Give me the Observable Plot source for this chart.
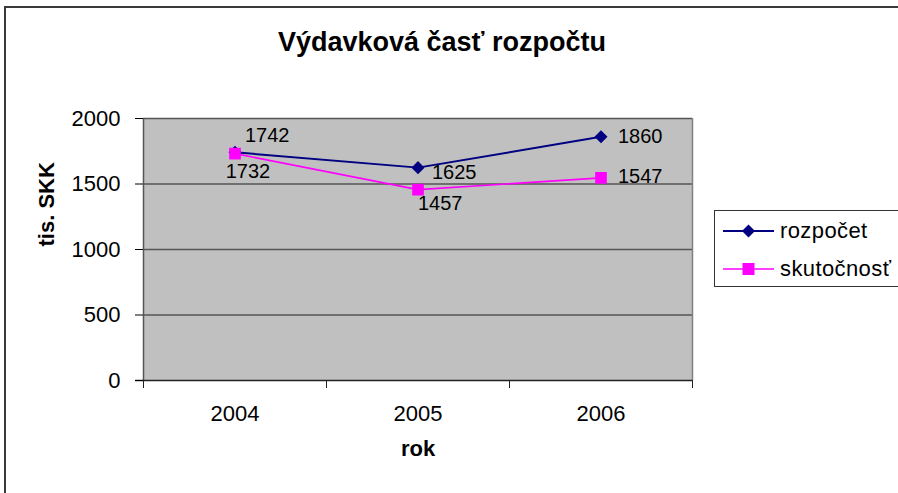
<!DOCTYPE html>
<html>
<head>
<meta charset="utf-8">
<script src="https://cdn.jsdelivr.net/npm/d3@7"></script>
<script src="https://cdn.jsdelivr.net/npm/@observablehq/plot@0.6"></script>
<style>
  html, body { margin: 0; padding: 0; background: #fff; overflow: hidden; }
  #wrap { position: relative; width: 898px; height: 493px; font-family: "Liberation Sans", Arial, sans-serif; }
  #border { position: absolute; left: 4px; top: 6px; width: 905px; height: 505px; border: 2px solid #3a3a3a; box-sizing: border-box; pointer-events: none; }
  #legend { position: absolute; left: 714px; top: 210px; width: 200px; height: 77px; border: 1px solid #333; background: #fff; box-sizing: border-box; }
  .lrow { position: absolute; left: 0; height: 30px; display: flex; align-items: center; font-size: 22px; color: #000; letter-spacing: 0.4px; }
  .lrow svg { margin-left: 8px; margin-right: 5px; }
</style>
</head>
<body>
<div id="wrap"><div id="border"></div></div>
<script>
const chartTitle = "Výdavková časť rozpočtu";
const xTitle = "rok";
const yTitle = "tis. SKK";
const years = ["2004", "2005", "2006"];
const seriesNames = ["rozpočet", "skutočnosť"];
const rozpocet = [1742, 1625, 1860];
const skutocnost = [1732, 1457, 1547];
const yTicks = [0, 500, 1000, 1500, 2000];

const colors = {"rozpočet": "#000080", "skutočnosť": "#FF00FF"};
const W = 898, H = 493, mL = 143, mR = 206, mT = 118, mB = 113;
const bw = (W - mL - mR) / years.length;
const plotH = H - mT - mB;

const rows = years.flatMap((yr, i) => [
  {year: yr, series: seriesNames[0], value: rozpocet[i]},
  {year: yr, series: seriesNames[1], value: skutocnost[i]}
]);
const rozRows = rows.filter(d => d.series === seriesNames[0]);
const skuRows = rows.filter(d => d.series === seriesNames[1]);

// label placement (style only): [series, year] -> offsets
const labelStyle = [
  {s: 0, y: "2004", dx: 10, dy: -17, anchor: "start"},
  {s: 1, y: "2004", dx: 13, dy: 18, anchor: "middle"},
  {s: 0, y: "2005", dx: 14, dy: 5, anchor: "start"},
  {s: 1, y: "2005", dx: 0, dy: 14, anchor: "start"},
  {s: 0, y: "2006", dx: 17, dy: 0, anchor: "start"},
  {s: 1, y: "2006", dx: 17, dy: -1, anchor: "start"}
];
const labelMarks = labelStyle.map(st => Plot.text(
  rows.filter(d => d.series === seriesNames[st.s] && d.year === st.y),
  {x: "year", y: "value", text: d => String(d.value), dx: st.dx, dy: st.dy,
   textAnchor: st.anchor, fontSize: 20, fill: "black"}
));

const chart = Plot.plot({
  width: W, height: H,
  marginLeft: mL, marginRight: mR, marginTop: mT, marginBottom: mB,
  style: {fontFamily: "'Liberation Sans', Arial, sans-serif", background: "transparent", overflow: "visible"},
  x: {type: "band", domain: years, padding: 0},
  y: {domain: [0, 2000]},
  marks: [
    Plot.frame({fill: "#C0C0C0"}),
    Plot.ruleY(yTicks.filter(d => d > 0), {stroke: "#555", strokeWidth: 1.5}),
    Plot.ruleX([years[years.length - 1]], {dx: bw / 2, stroke: "#808080", strokeWidth: 1.5}),
    Plot.ruleX([years[0]], {dx: -bw / 2, stroke: "#555", strokeWidth: 1.5}),
    Plot.ruleX(years, {dx: -bw / 2, insetTop: plotH, insetBottom: -8, stroke: "#222", strokeWidth: 1}),
    Plot.ruleX([years[years.length - 1]], {dx: bw / 2, insetTop: plotH, insetBottom: -8, stroke: "#222", strokeWidth: 1}),
    Plot.ruleY([0], {stroke: "#222", strokeWidth: 1.5, insetLeft: -8}),
    Plot.axisY({ticks: yTicks, tickSize: 8, tickPadding: 15, fontSize: 22, label: null, color: "#000", tickFormat: d => String(d)}),
    Plot.axisX({tickSize: 0, tickPadding: 25, fontSize: 22, label: null, color: "#000"}),
    Plot.line(rozRows, {x: "year", y: "value", stroke: colors[seriesNames[0]], strokeWidth: 2}),
    Plot.line(skuRows, {x: "year", y: "value", stroke: colors[seriesNames[1]], strokeWidth: 1.6}),
    Plot.dot(rozRows, {x: "year", y: "value", symbol: "square", rotate: 45, r: 5.2, fill: colors[seriesNames[0]], stroke: "none"}),
    Plot.dot(skuRows, {x: "year", y: "value", symbol: "square", r: 6.6, fill: colors[seriesNames[1]], stroke: "none"}),
    ...labelMarks,
    Plot.text([chartTitle], {frameAnchor: "top", lineAnchor: "bottom", dx: 24, dy: -68, fontSize: 27, fontWeight: "bold", fill: "black"}),
    Plot.text([xTitle], {frameAnchor: "bottom", dy: 75, fontSize: 22, fontWeight: "bold", fill: "black"}),
    Plot.text([yTitle], {frameAnchor: "left", rotate: -90, dx: -97, dy: -3, fontSize: 22, fontWeight: "bold", fill: "black"})
  ]
});
const wrap = document.getElementById("wrap");
chart.style.position = "absolute";
chart.style.left = "0px";
chart.style.top = "0px";
wrap.insertBefore(chart, wrap.firstChild);

// legend
const legend = document.createElement("div");
legend.id = "legend";
seriesNames.forEach((name, i) => {
  const row = document.createElement("div");
  row.className = "lrow";
  row.style.top = (i === 0 ? 5 : 43) + "px";
  const c = colors[name];
  const marker = i === 0
    ? `<rect x="21" y="-5" width="9" height="9" fill="${c}" transform="rotate(45 25.5 15)" style="transform-box:view-box"/>`
    : `<rect x="19.5" y="9.5" width="12" height="12" fill="${c}"/>`;
  const svgSw = i === 0
    ? `<svg width="52" height="30"><line x1="0" y1="15" x2="51" y2="15" stroke="${c}" stroke-width="${i === 0 ? 2 : 1.6}"/><path d="M25.5 8.5 L32 15 L25.5 21.5 L19 15 Z" fill="${c}"/></svg>`
    : `<svg width="52" height="30"><line x1="0" y1="15" x2="51" y2="15" stroke="${c}" stroke-width="1.6"/><rect x="19.5" y="9" width="12" height="12" fill="${c}"/></svg>`;
  row.innerHTML = svgSw + `<span>${name}</span>`;
  legend.appendChild(row);
});
wrap.appendChild(legend);
</script>
</body>
</html>
